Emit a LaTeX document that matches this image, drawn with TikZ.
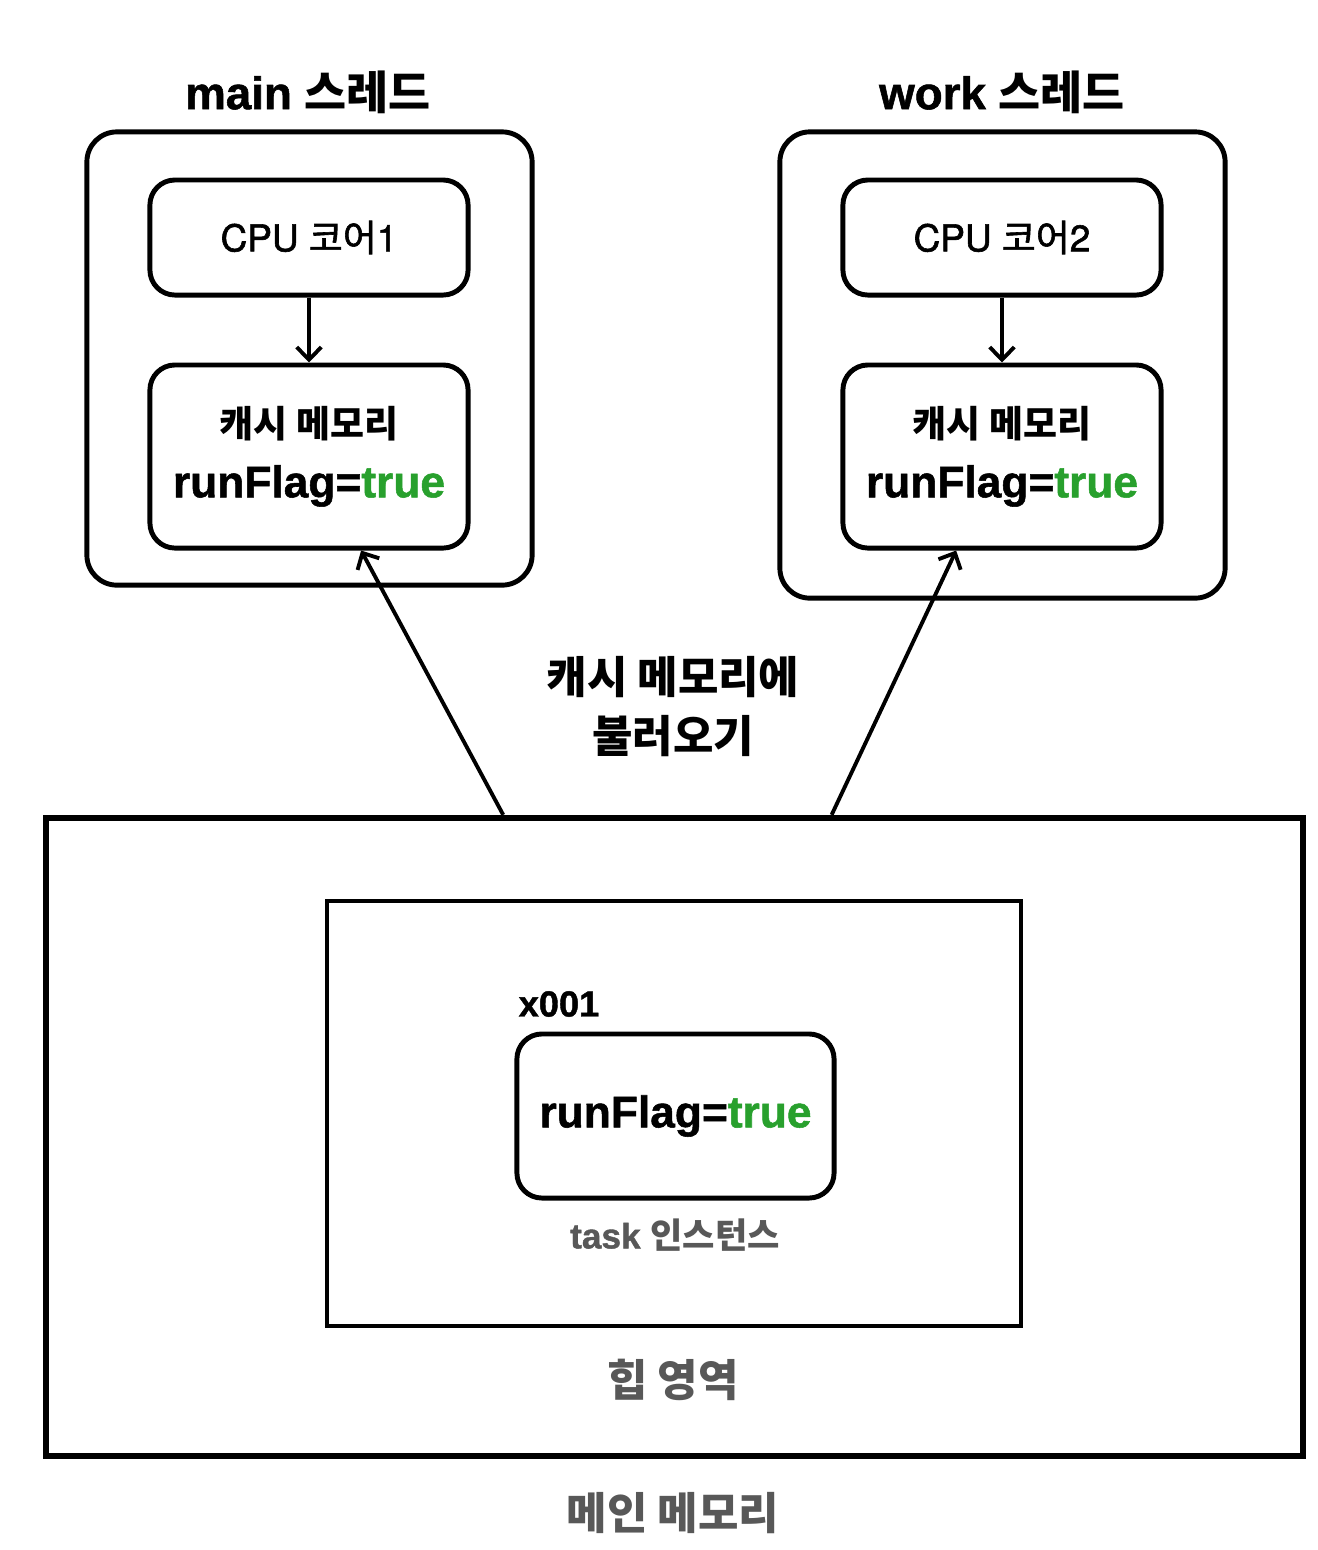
\documentclass[tikz,border=0pt]{standalone}
\usepackage{fontspec}
\setmainfont{Liberation Sans}[BoldFeatures={RawFeature={embolden=1.2}}]
\newfontfamily\korfont{Noto Sans CJK KR}
\newfontfamily\midfont{TeX Gyre Heros}[RawFeature={embolden=1.6}]
\newfontfamily\kormid{Noto Sans CJK JP}[RawFeature={embolden=1.6}]
\usetikzlibrary{arrows.meta}
\definecolor{flaggreen}{RGB}{40,160,45}
\definecolor{labelgray}{RGB}{88,88,88}
\newcommand{\flagtxt}{{\bfseries\fontsize{12.6}{15}\selectfont runFlag=\textcolor{flaggreen}{true}}}

\begin{document}
\begin{tikzpicture}[x=0.01cm,y=-0.01cm,
  thread/.style={draw,line width=1.4pt,rounded corners=0.3cm,minimum width=4.45cm,inner sep=0pt},
  unit/.style={draw,line width=1.4pt,rounded corners=0.25cm,minimum width=3.18cm,inner sep=0pt,align=center},
  title/.style={inner sep=0pt,font=\bfseries\fontsize{13}{15}\selectfont},
  graylbl/.style={inner sep=0pt,text=labelgray,font=\bfseries\fontsize{12.5}{15}\selectfont},
  arr/.style={line width=1.1pt,-{Straight Barb[length=3.6pt,width=7pt]}}]
  \useasboundingbox (0,0) rectangle (1318,1550);
  % the two threads
  \node[title] (t1) at (308,92) {main {\korfont 스레드}};
  \node[title] (t2) at (1002,92) {work {\korfont 스레드}};
  \node[thread,minimum height=4.53cm] (main) at (309.5,358.5) {};
  \node[thread,minimum height=4.66cm] (work) at (1002.5,365) {};
  \node[unit,minimum height=1.15cm,font=\midfont\fontsize{10.5}{13}\selectfont] (cpu1) at (309,237.5) {CPU {\kormid 코어}1};
  \node[unit,minimum height=1.15cm,font=\midfont\fontsize{10.5}{13}\selectfont] (cpu2) at (1002,237.5) {CPU {\kormid 코어}2};
  \node[unit,minimum height=1.83cm,font=\bfseries] (cache1) at (309,456.5)
    {{\korfont\fontsize{10.5}{13}\selectfont 캐시 메모리}\\[5pt]\flagtxt};
  \node[unit,minimum height=1.83cm,font=\bfseries] (cache2) at (1002,456.5)
    {{\korfont\fontsize{10.5}{13}\selectfont 캐시 메모리}\\[5pt]\flagtxt};
  \draw[arr] (cpu1) -- (cache1);
  \draw[arr] (cpu2) -- (cache2);
  % main memory and heap
  \node[draw,line width=1.7pt,minimum width=12.57cm,minimum height=6.38cm] (mem) at (674.5,1137) {};
  \node[draw,line width=1.2pt,minimum width=6.94cm,minimum height=4.25cm] (heap) at (674,1113.5) {};
  \node[unit,minimum width=3.17cm,minimum height=1.64cm,font=\bfseries] (task) at (675.5,1116) {\flagtxt};
  \node[anchor=west,inner sep=0pt,font=\bfseries\fontsize{10.3}{12}\selectfont] (addr) at (518,1004) {x001};
  \node[graylbl,font=\bfseries\fontsize{10}{12}\selectfont] (tasklbl) at (675,1235) {task {\korfont 인스턴스}};
  \node[graylbl,font=\korfont\bfseries\fontsize{12.5}{15}\selectfont] (heaplbl) at (673,1380) {힙 영역};
  \node[graylbl,font=\korfont\bfseries\fontsize{12.5}{15}\selectfont] (memlbl) at (673,1513) {메인 메모리};
  % loading into the caches
  \node[align=center,inner sep=0pt,font=\korfont\bfseries\fontsize{12.5}{16.8}\selectfont] (load) at (673,707) {캐시 메모리에\\불러오기};
  \draw[arr] (mem.118.4) -- (cache1.-61);
  \draw[arr] (mem.64) -- (cache2.-116);
\end{tikzpicture}
\end{document}
